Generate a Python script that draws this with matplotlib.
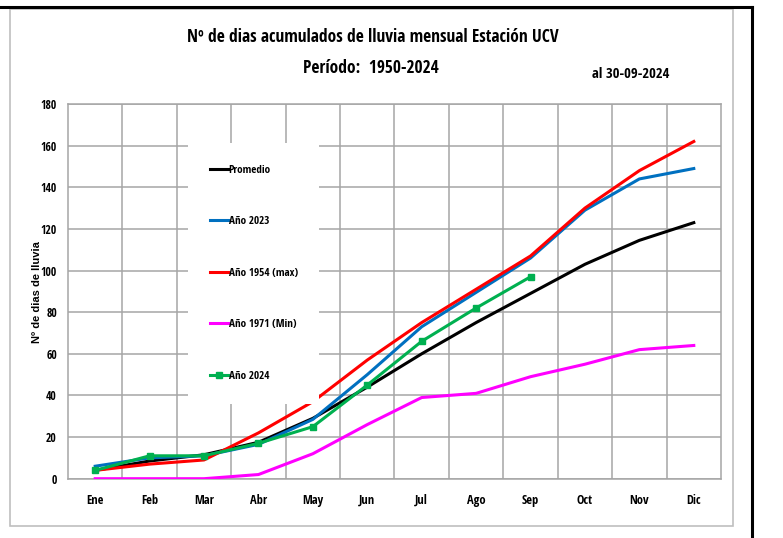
import matplotlib
matplotlib.use("Agg")
import matplotlib.pyplot as plt
from matplotlib.lines import Line2D
from matplotlib.patches import Rectangle

# ---------------------------------
# Data
# ---------------------------------
months = ["Ene", "Feb", "Mar", "Abr", "May", "Jun", "Jul", "Ago", "Sep", "Oct", "Nov", "Dic"]

promedio = [4, 8.5, 11.5, 17.5, 29, 44, 60, 75, 89, 103, 114.5, 123]
anio_2023 = [6, 10, 11, 16.5, 28.5, 50, 73, 89.5, 106, 129, 144, 149]
anio_1954 = [4, 7, 9, 22, 37, 57, 75, 91, 107, 130, 148, 162]
anio_1971 = [0, 0, 0, 2, 12, 26, 39, 41, 49, 55, 62, 64]
anio_2024 = [4, 11, 11, 17, 25, 45, 66, 82, 97]

y_ticks = list(range(0, 181, 20))

narrow = ["Open Sans Condensed", "DejaVu Sans"]
grid_col = "#a6a6a6"

# ---------------------------------
# Figure
# ---------------------------------
fig = plt.figure(figsize=(7.83, 5.38), dpi=100)

# outer borders (black frame top/right, grey chart frame)
fig.add_artist(Line2D([0, 752 / 783], [1 - 7 / 538, 1 - 7 / 538], color="black", lw=2.2))
fig.add_artist(Line2D([752 / 783, 752 / 783], [0, 1 - 7 / 538], color="black", lw=2.2))
fig.add_artist(Rectangle((9.5 / 783, 1 - 526 / 538), (733 - 9.5) / 783, (526 - 9) / 538,
                         fill=False, edgecolor="#bfbfbf", lw=1.2))

ax = fig.add_axes([68 / 783, 1 - 478.7 / 538, 653 / 783, 374.7 / 538])

x = list(range(len(months)))
ax.plot(x, promedio, color="black", lw=2.2, label="Promedio", zorder=3)
ax.plot(x, anio_2023, color="#0070C0", lw=2.2, label="Año 2023", zorder=3)
ax.plot(x, anio_1954, color="#FF0000", lw=2.2, label="Año 1954 (max)", zorder=3)
ax.plot(x, anio_1971, color="#FF00FF", lw=2.2, label="Año 1971 (Min)", zorder=3)
ax.plot(x[:len(anio_2024)], anio_2024, color="#00B050", lw=2.2, marker="s",
        markersize=5, label="Año 2024", zorder=4)

ax.set_xlim(-0.5, 11.5)
ax.set_ylim(0, 180)
ax.set_yticks(y_ticks)
ax.set_xticks(x)
ax.set_xticks([i + 0.5 for i in range(11)], minor=True)
ax.set_xticklabels(months, fontfamily=narrow, fontweight="bold", fontsize=9)
ax.set_yticklabels([str(v) for v in y_ticks], fontfamily=narrow, fontsize=8.5)
ax.tick_params(axis="both", which="both", length=0)
ax.tick_params(axis="x", pad=11)
ax.tick_params(axis="y", pad=8)

ax.grid(axis="y", which="major", color=grid_col, lw=1.1)
ax.grid(axis="x", which="minor", color=grid_col, lw=1.1)
ax.set_axisbelow(True)
for s in ax.spines.values():
    s.set_color(grid_col)
    s.set_linewidth(1.1)

ax.set_ylabel("Nº de dias de lluvia", fontsize=8, fontweight="bold", family="Liberation Sans")
ax.yaxis.set_label_coords(-0.040, 0.498)

# legend box sits inside the plot, top-left corner at about (188, 143) px
leg = ax.legend(loc="upper left", bbox_to_anchor=(0.184, 0.896),
                frameon=True, fancybox=False, edgecolor="none", facecolor="white",
                framealpha=1, handlelength=1.6, handletextpad=0.1, labelspacing=3.65,
                borderpad=1.95, borderaxespad=0,
                prop={"family": narrow, "weight": "bold", "size": 8})
leg.set_zorder(5)

# ---------------------------------
# Titles
# ---------------------------------
fig.text(373 / 783, 1 - 37 / 538, "Nº de dias acumulados de lluvia mensual Estación UCV",
         ha="center", va="center", fontsize=12.5, fontweight="bold", family=narrow)
fig.text(371 / 783, 1 - 68 / 538, "Período:  1950-2024",
         ha="center", va="center", fontsize=12.5, fontweight="bold", family=narrow)
fig.text(631 / 783, 1 - 74 / 538, "al 30-09-2024",
         ha="center", va="center", fontsize=10.5, fontweight="bold", family=narrow)

fig.savefig("out.png", dpi=100)
